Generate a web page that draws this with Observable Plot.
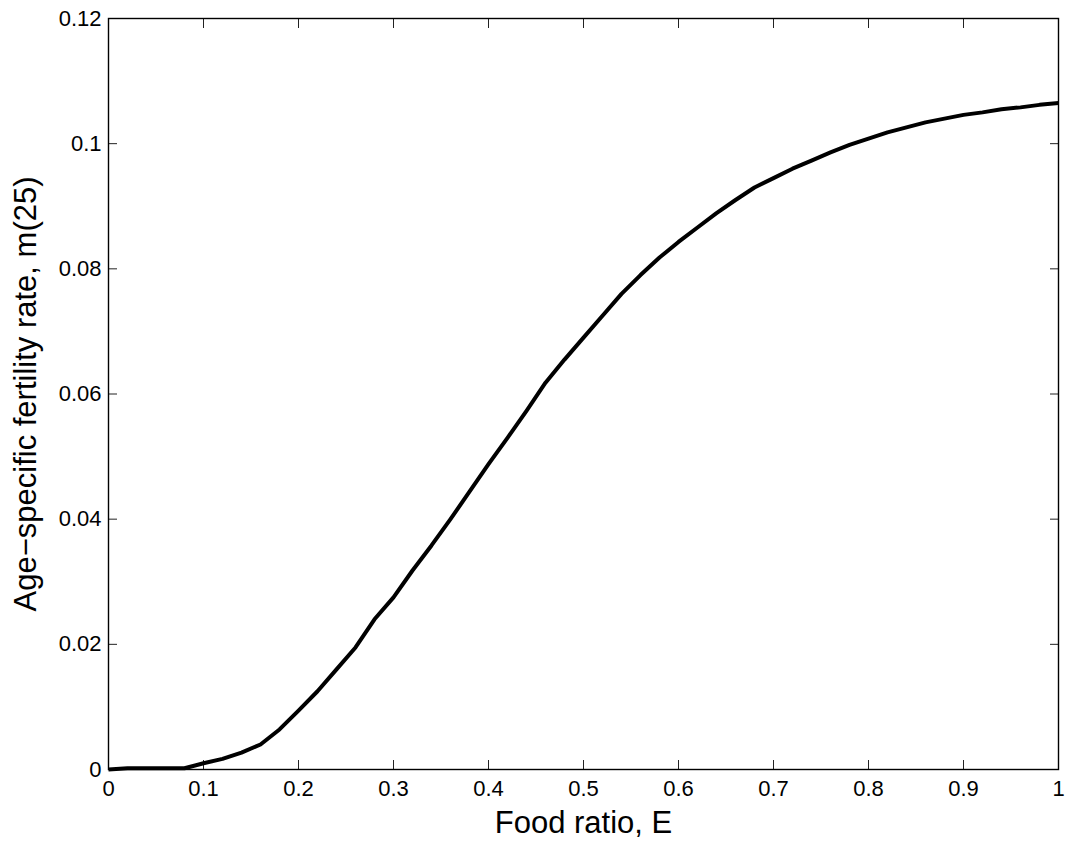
<!DOCTYPE html>
<html>
<head>
<meta charset="utf-8">
<script src="https://cdn.jsdelivr.net/npm/d3@7"></script>
<script src="https://cdn.jsdelivr.net/npm/@observablehq/plot@0.6"></script>
<style>
  html, body { margin: 0; padding: 0; background: #fff; }
  #chart svg { display: block; }
</style>
</head>
<body>
<div id="chart"></div>
<script>
// Food ratio E (x) and age-specific fertility rate m(25) (y)
const foodRatio = [0.00,0.02,0.04,0.06,0.08,0.10,0.12,0.14,0.16,0.18,0.20,0.22,0.24,0.26,0.28,0.30,0.32,0.34,0.36,0.38,0.40,0.42,0.44,0.46,0.48,0.50,0.52,0.54,0.56,0.58,0.60,0.62,0.64,0.66,0.68,0.70,0.72,0.74,0.76,0.78,0.80,0.82,0.84,0.86,0.88,0.90,0.92,0.94,0.96,0.98,1.00];
const fertility = [0.0000,0.0002,0.0002,0.0002,0.0002,0.0010,0.0017,0.0027,0.0040,0.0064,0.0094,0.0125,0.0160,0.0195,0.0240,0.0275,0.0318,0.0358,0.0400,0.0444,0.0488,0.0530,0.0573,0.0618,0.0655,0.0690,0.0725,0.0760,0.0790,0.0818,0.0843,0.0866,0.0889,0.0910,0.0930,0.0945,0.0960,0.0973,0.0986,0.0998,0.1008,0.1018,0.1026,0.1034,0.1040,0.1046,0.1050,0.1055,0.1058,0.1062,0.1065];
const xTicks = [0,0.1,0.2,0.3,0.4,0.5,0.6,0.7,0.8,0.9,1];
const yTicks = [0,0.02,0.04,0.06,0.08,0.1,0.12];
const xLabel = "Food ratio, E";
const yLabel = "Age\u2212specific fertility rate, m(25)";

const data = foodRatio.map((e, i) => ({e, m: fertility[i]}));
const fmt = d => String(+d.toFixed(2));
const FONT = "'Liberation Sans', Arial, Helvetica, sans-serif";
const TICK = 9;

const chart = Plot.plot({
  width: 1071,
  height: 841,
  marginLeft: 108,
  marginRight: 13,
  marginTop: 18,
  marginBottom: 72,
  style: {fontFamily: FONT, background: "#fff", color: "#000", overflow: "visible"},
  x: {domain: [0, 1]},
  y: {domain: [0, 0.12]},
  marks: [
    Plot.axisX(xTicks, {anchor: "bottom", tickSize: -TICK, tickPadding: TICK + 11, tickFormat: fmt, fontSize: 22, label: null, stroke: "#222", fill: "#000"}),
    Plot.axisX(xTicks, {anchor: "top", tickSize: -TICK, tickFormat: () => "", label: null, stroke: "#222"}),
    Plot.axisY(yTicks, {anchor: "left", tickSize: -TICK, tickPadding: TICK + 7, tickFormat: fmt, fontSize: 22, label: null, stroke: "#222", fill: "#000"}),
    Plot.axisY(yTicks, {anchor: "right", tickSize: -TICK, tickFormat: () => "", label: null, stroke: "#222"}),
    Plot.line(data, {x: "e", y: "m", stroke: "#000", strokeWidth: 4, strokeLinejoin: "round", strokeLinecap: "butt"}),
    Plot.frame({stroke: "#000", strokeWidth: 1.4}),
    Plot.text([xLabel], {text: d => d, frameAnchor: "bottom", dy: 63, lineAnchor: "bottom", textAnchor: "middle", fontSize: 31, fill: "#000"}),
    Plot.text([yLabel], {text: d => d, frameAnchor: "left", dx: -73, rotate: -90, lineAnchor: "bottom", textAnchor: "middle", fontSize: 31, fill: "#000"})
  ]
});
document.getElementById("chart").appendChild(chart);
</script>
</body>
</html>
